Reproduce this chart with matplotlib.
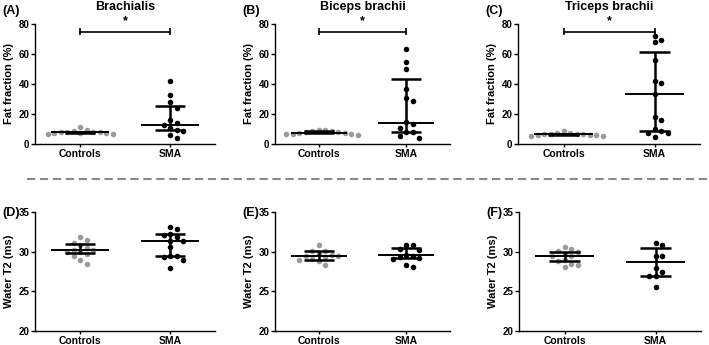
import numpy as np
import matplotlib
matplotlib.use("Agg")
import matplotlib.pyplot as plt

plt.rcParams['font.family'] = ['Liberation Sans', 'DejaVu Sans']
plt.rcParams['font.weight'] = 'bold'

# grupos
grupos = ["Controls", "SMA"]

# fraccion de grasa (%)
braq_ctrl = [11.5, 9.3, 8.6, 8.3, 8.0, 7.8, 7.7, 7.5, 7.3, 7.2, 7.0, 6.8]
braq_sma = [42, 33, 28, 24, 16, 14, 13, 10.5, 9.5, 9, 6, 4]
bic_ctrl = [9.6, 9.3, 8.9, 8.5, 8.1, 7.8, 7.6, 7.4, 7.0, 6.8, 6.5, 6.2]
bic_sma = [63.6, 54.7, 50, 37, 30.5, 28.5, 14.5, 13.5, 10.5, 8, 8, 5.5, 4]
tri_ctrl = [8.8, 7.6, 7.2, 6.9, 6.7, 6.5, 6.4, 6.2, 6.0, 5.8, 5.6, 5.5]
tri_sma = [72.2, 69.1, 67.8, 56, 42.2, 40.4, 33.3, 17.8, 16, 9.8, 8.5, 7.6, 7.1, 4.9]

# water T2 (ms)
t2_braq_ctrl = [31.8, 31.5, 31.1, 30.9, 30.5, 30.2, 30.2, 30.0, 29.9, 29.7, 29.4, 29.0, 28.4]
t2_braq_sma = [33.1, 32.8, 32.2, 32.1, 31.9, 31.4, 31.4, 30.6, 29.5, 29.4, 29.3, 28.9, 28.0]
t2_bic_ctrl = [30.8, 30.1, 30.1, 29.7, 29.6, 29.5, 29.3, 29.1, 29.0, 28.8, 28.3, 29.4]
t2_bic_sma = [30.9, 30.8, 30.3, 30.2, 29.6, 29.5, 29.3, 29.2, 29.1, 28.3, 28.1]
t2_tri_ctrl = [30.6, 30.3, 30.1, 30.0, 29.7, 29.5, 29.4, 28.9, 28.8, 28.5, 28.3, 28.1]
t2_tri_sma = [31.1, 30.9, 29.5, 29.4, 27.9, 27.5, 26.9, 26.9, 25.5]

# mediana, q1, q3
med_top = [[7.8, 7.3, 8.3], [12.7, 9.1, 25.3],
           [7.6, 7.1, 8.9], [14.0, 7.8, 43.6],
           [6.4, 5.9, 7.0], [33.3, 8.4, 61.6]]
med_bot = [[30.2, 29.8, 30.95], [31.3, 29.5, 32.2],
           [29.5, 29.0, 30.1], [29.6, 29.2, 30.4],
           [29.5, 28.8, 30.0], [28.7, 26.9, 30.5]]

titulos = ["Brachialis", "Biceps brachii", "Triceps brachii"]
letras_top = ["(A)", "(B)", "(C)"]
letras_bot = ["(D)", "(E)", "(F)"]

W, H = 709, 345
GRIS = "#9a9a9a"


# posiciones tipo beeswarm en pixeles
def swarm(ax, valores, centro, d=6.5):
    pts = ax.transData.transform([(centro, v) for v in valores])
    colocados = []
    xs = []
    for (px, py) in pts:
        k = 0
        while True:
            for off in ([0] if k == 0 else [k * d, -k * d]):
                cx = px + off
                ok = all((cx - a) ** 2 + (py - b) ** 2 >= (d * 0.95) ** 2 for a, b in colocados)
                if ok:
                    break
            else:
                k += 1
                continue
            break
        colocados.append((cx, py))
        xs.append(cx)
    inv = ax.transData.inverted()
    return [inv.transform((x, 0))[0] for x in xs]


def panel(ax, ctrl, sma, stats, ylim, yticks, ylabel):
    ax.set_xlim(-0.5, 1.5)
    ax.set_ylim(*ylim)
    for i, (vals, col) in enumerate([(ctrl, GRIS), (sma, "black")]):
        orden = sorted(vals, key=lambda v: -v)
        xs = swarm(ax, orden, i)
        ax.scatter(xs, orden, s=16, color=col, zorder=2, linewidths=0)
        med, q1, q3 = stats[i]
        ax.hlines(med, i - 0.32, i + 0.32, color="black", lw=1.4, zorder=3)
        ax.hlines([q1, q3], i - 0.17, i + 0.17, color="black", lw=1.8, zorder=3)
        ax.vlines(i, q1, q3, color="black", lw=1.8, zorder=3)
    ax.spines['top'].set_visible(False)
    ax.spines['right'].set_visible(False)
    ax.spines['left'].set_linewidth(1.0)
    ax.spines['bottom'].set_linewidth(1.0)
    ax.set_yticks(yticks)
    ax.set_xticks([0, 1])
    ax.set_xticklabels(grupos, fontsize=7.5, fontweight='bold')
    ax.tick_params(axis='y', labelsize=7, length=3, width=1, pad=1)
    ax.tick_params(axis='x', length=2.5, width=1, pad=1)
    ax.set_ylabel(ylabel, fontsize=8, fontweight='bold', labelpad=3)


fig = plt.figure(figsize=(W / 100, H / 100), dpi=100)

lefts_top = [35, 275, 518]
lefts_bot = [35, 275, 519]
anchos = [180, 175, 182]

datos_top = [(braq_ctrl, braq_sma), (bic_ctrl, bic_sma), (tri_ctrl, tri_sma)]
datos_bot = [(t2_braq_ctrl, t2_braq_sma), (t2_bic_ctrl, t2_bic_sma), (t2_tri_ctrl, t2_tri_sma)]

for j in range(3):
    ax = fig.add_axes([lefts_top[j] / W, 1 - 144 / H, anchos[j] / W, 120 / H])
    panel(ax, datos_top[j][0], datos_top[j][1], med_top[2 * j:2 * j + 2],
          (0, 80), [0, 20, 40, 60, 80], "Fat fraction (%)")
    ax.set_title(titulos[j], fontsize=9, fontweight='bold', pad=10)
    # barra de significancia
    ax.plot([0, 1], [75, 75], color="black", lw=1.2, clip_on=False)
    ax.vlines([0, 1], 72.5, 77.5, color="black", lw=1.2, clip_on=False)
    ax.text(0.5, 78, "*", ha='center', va='bottom', fontsize=9, fontweight='bold')
    fig.text((lefts_top[j] - 33) / W, 1 - 11 / H, letras_top[j], fontsize=9,
             fontweight='bold', va='center', ha='left')

    ax2 = fig.add_axes([lefts_bot[j] / W, 1 - 331 / H, anchos[j] / W, 119 / H])
    panel(ax2, datos_bot[j][0], datos_bot[j][1], med_bot[2 * j:2 * j + 2],
          (20, 35), [20, 25, 30, 35], "Water T2 (ms)")
    fig.text((lefts_bot[j] - 33) / W, 1 - 213 / H, letras_bot[j], fontsize=9,
             fontweight='bold', va='center', ha='left')

# linea discontinua separadora
fig.add_artist(plt.Line2D([27 / W, 1], [1 - 179 / H, 1 - 179 / H], color="#8a8a8a",
                          lw=1.5, linestyle=(0, (4, 2.2))))

fig.savefig("out.png", dpi=100)
